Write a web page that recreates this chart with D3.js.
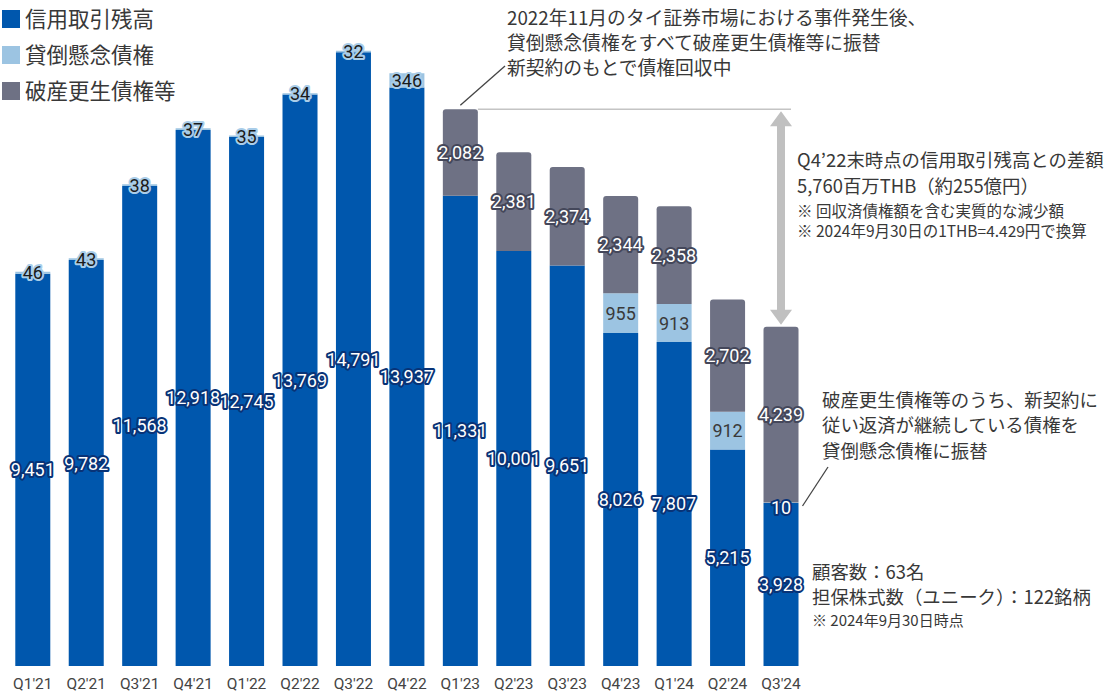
<!DOCTYPE html>
<html>
<head>
<meta charset="UTF-8">
<title>信用取引残高</title>
<script src="https://d3js.org/d3.v7.min.js"></script>
<style>
    body {margin: 0; background: #fff;}
    .jp {font-family: "Noto Sans CJK JP", "Noto Sans", sans-serif; fill: #383838;}
    .num {font-family: Roboto, "Noto Sans", sans-serif;}
    .lbl {paint-order: stroke; stroke-linejoin: round; stroke-width: 4px;}
</style>
</head>
<body>
<div id="chart"></div>
<script>
    var categories = ["Q1'21", "Q2'21", "Q3'21", "Q4'21", "Q1'22", "Q2'22", "Q3'22", "Q4'22",
                      "Q1'23", "Q2'23", "Q3'23", "Q4'23", "Q1'24", "Q2'24", "Q3'24"];
    // 信用取引残高 (百万THB)
    var marginBal = [9451, 9782, 11568, 12918, 12745, 13769, 14791, 13937,
                     11331, 10001, 9651, 8026, 7807, 5215, 3928];
    // 貸倒懸念債権
    var doubtful = [46, 43, 38, 37, 35, 34, 32, 346, 0, 0, 0, 955, 913, 912, 10];
    // 破産更生債権等
    var bankrupt = [0, 0, 0, 0, 0, 0, 0, 0, 2082, 2381, 2374, 2344, 2358, 2702, 4239];

    var seriesNames = ["信用取引残高", "貸倒懸念債権", "破産更生債権等"];
    var colors = ["#0057ad", "#9cc4e2", "#6e7184"];

    var width = 1110, height = 693;

    var svg = d3.select("#chart").append("svg")
        .attr("width", width)
        .attr("height", height);

    var x = d3.scaleBand()
        .domain(categories)
        .range([6.2, 807.6])
        .paddingInner(0.345)
        .paddingOuter(0.17);

    var y = d3.scaleLinear()
        .domain([0, 16048])
        .range([666, 0]);

    var bw = x.bandwidth();

    function topRounded(x0, y0, w, h, r) {
        r = Math.min(r, h);
        return "M" + x0 + "," + (y0 + h) + "V" + (y0 + r) +
            "Q" + x0 + "," + y0 + " " + (x0 + r) + "," + y0 +
            "H" + (x0 + w - r) + "Q" + (x0 + w) + "," + y0 + " " + (x0 + w) + "," + (y0 + r) +
            "V" + (y0 + h) + "Z";
    }

    // stacked segments
    var rows = categories.map(function(c, i) {
        var a = marginBal[i], b = doubtful[i], g = bankrupt[i];
        return {cat: c, i: i, segs: [
            {k: 0, v: a, y0: 0, y1: a},
            {k: 1, v: b, y0: a, y1: a + b},
            {k: 2, v: g, y0: a + b, y1: a + b + g}
        ]};
    });

    var bars = svg.append("g").selectAll("g")
        .data(rows)
        .enter().append("g");

    bars.selectAll("path")
        .data(function(d) { return d.segs.filter(function(s) { return s.v > 0; }); })
        .enter().append("path")
        .attr("fill", function(s) { return colors[s.k]; })
        .attr("d", function(s) {
            var d = d3.select(this.parentNode).datum();
            var top = y(s.y1), h = y(s.y0) - y(s.y1);
            return topRounded(x(d.cat), top, bw, h, s.k == 2 ? 3 : 0);
        });

    // value labels
    bars.selectAll("text")
        .data(function(d) { return d.segs.filter(function(s) { return s.v > 0; })
            .map(function(s) { s.i = d.i; s.cat = d.cat; return s; }); })
        .enter().append("text")
        .attr("class", "num lbl")
        .attr("x", function(s) { return x(s.cat) + bw / 2; })
        .attr("y", function(s) {
            var my = (y(s.y0) + y(s.y1)) / 2;
            if (s.k == 1 && s.v < 20) my += 5;
            return my;
        })
        .attr("dy", "0.36em")
        .attr("text-anchor", "middle")
        .style("font-size", "18px")
        .attr("fill", function(s) {
            if (s.k == 1) return s.v < 20 ? "#fff" : (s.v < 500 ? "#1a1a1a" : "#3a3a3a");
            return "#fff";
        })
        .attr("stroke", function(s) {
            if (s.k == 0) return "#083377";
            if (s.k == 2) return "#44475a";
            if (s.v < 20) return "#083377";
            if (s.v < 500) return "#a9cde9";
            return "none";
        })
        .text(function(s) { return d3.format(",")(s.v); });

    // x axis labels
    svg.append("g").selectAll("text")
        .data(categories)
        .enter().append("text")
        .attr("class", "num")
        .attr("x", function(d) { return x(d) + bw / 2; })
        .attr("y", 683)
        .attr("dy", "0.36em")
        .attr("text-anchor", "middle")
        .style("font-size", "15.5px")
        .attr("fill", "#444")
        .text(function(d) { return d; });

    // legend
    var legend = svg.append("g").selectAll("g")
        .data(seriesNames)
        .enter().append("g")
        .attr("transform", function(d, i) { return "translate(2," + (19 + i * 36) + ")"; });
    legend.append("rect")
        .attr("x", 0).attr("y", -9).attr("width", 18).attr("height", 18)
        .attr("fill", function(d, i) { return colors[i]; });
    legend.append("text")
        .attr("class", "jp")
        .attr("x", 23).attr("dy", "0.36em")
        .style("font-size", "21.5px")
        .text(function(d) { return d; });

    // annotation: Q1'23 leader + top text
    var q123 = "Q1'23", q324 = "Q3'24";
    var top123 = y(marginBal[8] + doubtful[8] + bankrupt[8]);
    var top324 = y(marginBal[14] + doubtful[14] + bankrupt[14]);
    var arrowX = x(q324) + bw / 2;

    svg.append("line")
        .attr("x1", x(q123) + bw / 2).attr("y1", top123 - 4)
        .attr("x2", 505).attr("y2", 66)
        .attr("stroke", "#444").attr("stroke-width", 1.3);

    var topText = ["2022年11月のタイ証券市場における事件発生後、",
                   "貸倒懸念債権をすべて破産更生債権等に振替",
                   "新契約のもとで債権回収中"];
    svg.append("g").selectAll("text")
        .data(topText)
        .enter().append("text")
        .attr("class", "jp")
        .attr("x", 507)
        .attr("y", function(d, i) { return 18 + i * 25; })
        .attr("dy", "0.36em")
        .style("font-size", "18.8px")
        .text(function(d) { return d; });

    // difference line and arrow
    svg.append("line")
        .attr("x1", x(q123) + bw).attr("y1", top123)
        .attr("x2", arrowX + 10).attr("y2", top123)
        .attr("stroke", "#c4c4c4").attr("stroke-width", 1.5);

    var ah = 15, aw = 11;
    svg.append("path")
        .attr("fill", "#c0c0c0")
        .attr("d", "M" + arrowX + "," + (top123 + 2) +
            "L" + (arrowX + aw) + "," + (top123 + 2 + ah) +
            "H" + (arrowX + 4) + "V" + (top324 - 2 - ah) +
            "H" + (arrowX + aw) +
            "L" + arrowX + "," + (top324 - 2) +
            "L" + (arrowX - aw) + "," + (top324 - 2 - ah) +
            "H" + (arrowX - 4) + "V" + (top123 + 2 + ah) +
            "H" + (arrowX - aw) + "Z");

    var diffText = [
        {t: "Q4’22末時点の信用取引残高との差額", s: 18.4, y: 160},
        {t: "5,760百万THB（約255億円）", s: 18.4, y: 186},
        {t: "※ 回収済債権額を含む実質的な減少額", s: 15.5, y: 211},
        {t: "※ 2024年9月30日の1THB=4.429円で換算", s: 15.5, y: 231}
    ];
    svg.append("g").selectAll("text")
        .data(diffText)
        .enter().append("text")
        .attr("class", "jp")
        .attr("x", 797)
        .attr("y", function(d) { return d.y; })
        .attr("dy", "0.36em")
        .style("font-size", function(d) { return d.s + "px"; })
        .text(function(d) { return d.t; });

    // transfer note
    var transferText = ["破産更生債権等のうち、新契約に",
                        "従い返済が継続している債権を",
                        "貸倒懸念債権に振替"];
    svg.append("g").selectAll("text")
        .data(transferText)
        .enter().append("text")
        .attr("class", "jp")
        .attr("x", 822)
        .attr("y", function(d, i) { return 400 + i * 25.5; })
        .attr("dy", "0.36em")
        .style("font-size", "18.4px")
        .text(function(d) { return d; });

    svg.append("line")
        .attr("x1", x(q324) + bw + 4).attr("y1", y(marginBal[14]) + 3)
        .attr("x2", 828).attr("y2", 467)
        .attr("stroke", "#444").attr("stroke-width", 1.3);

    // customer note
    var custText = [
        {t: "顧客数：63名", s: 18.4, y: 572},
        {t: "担保株式数（ユニーク）：122銘柄", s: 18.4, y: 597},
        {t: "※ 2024年9月30日時点", s: 15, y: 621}
    ];
    svg.append("g").selectAll("text")
        .data(custText)
        .enter().append("text")
        .attr("class", "jp")
        .attr("x", 812)
        .attr("y", function(d) { return d.y; })
        .attr("dy", "0.36em")
        .style("font-size", function(d) { return d.s + "px"; })
        .text(function(d) { return d.t; });
</script>
</body>
</html>
